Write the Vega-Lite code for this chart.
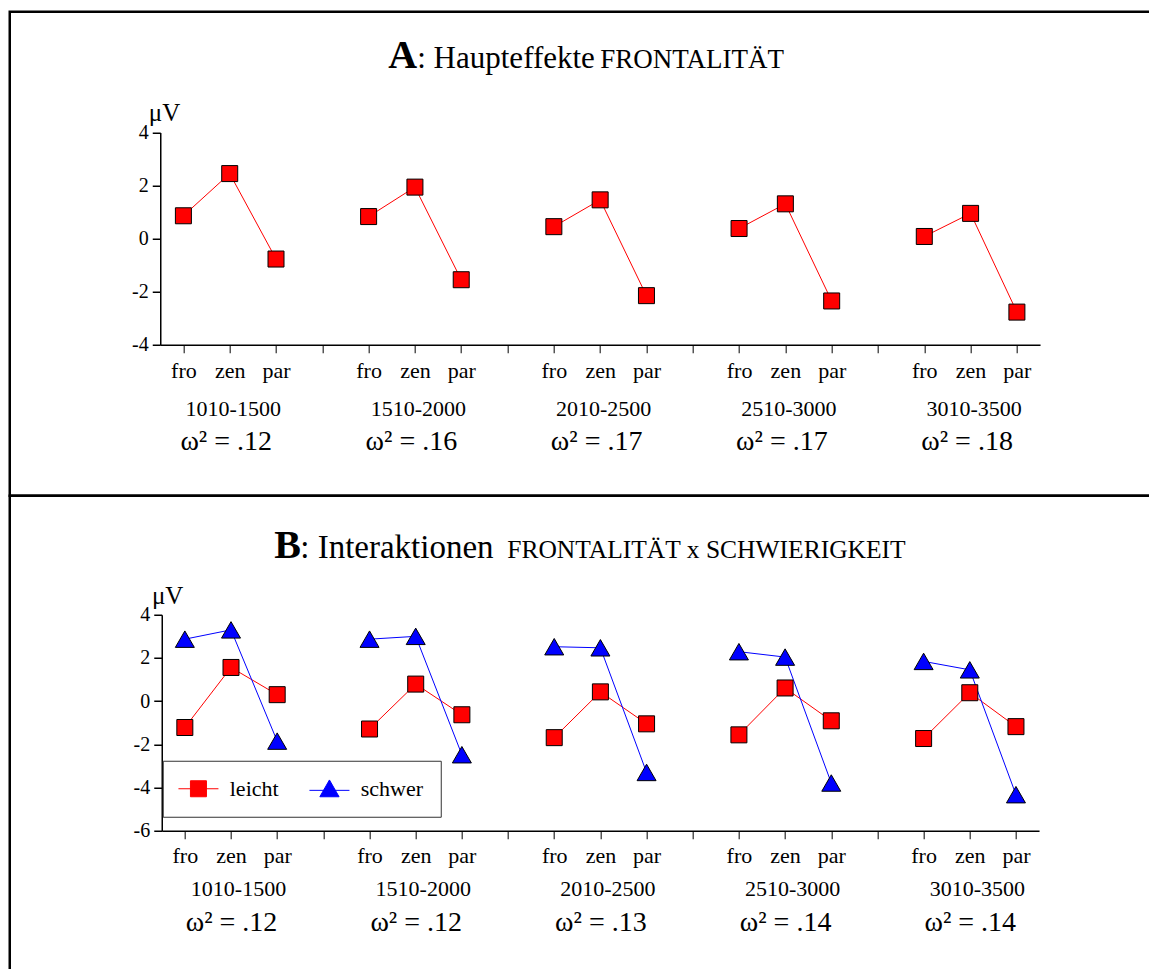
{
  "$schema": "https://vega.github.io/schema/vega-lite/v6.json",
  "background": "white",
  "padding": {"left": 7.75, "top": 9.75, "right": 0, "bottom": 0},
  "config": {
    "font": "Liberation Serif",
    "view": {"stroke": "#000", "strokeWidth": 2.5}
  },
  "datasets": {
    "haupt": [
      {"cell": "fro|1010-1500", "window": "1010-1500", "uV": 0.86},
      {"cell": "zen|1010-1500", "window": "1010-1500", "uV": 2.45},
      {"cell": "par|1010-1500", "window": "1010-1500", "uV": -0.77},
      {"cell": "fro|1510-2000", "window": "1510-2000", "uV": 0.83},
      {"cell": "zen|1510-2000", "window": "1510-2000", "uV": 1.94},
      {"cell": "par|1510-2000", "window": "1510-2000", "uV": -1.55},
      {"cell": "fro|2010-2500", "window": "2010-2500", "uV": 0.45},
      {"cell": "zen|2010-2500", "window": "2010-2500", "uV": 1.46},
      {"cell": "par|2010-2500", "window": "2010-2500", "uV": -2.15},
      {"cell": "fro|2510-3000", "window": "2510-3000", "uV": 0.38},
      {"cell": "zen|2510-3000", "window": "2510-3000", "uV": 1.31},
      {"cell": "par|2510-3000", "window": "2510-3000", "uV": -2.35},
      {"cell": "fro|3010-3500", "window": "3010-3500", "uV": 0.08},
      {"cell": "zen|3010-3500", "window": "3010-3500", "uV": 0.95},
      {"cell": "par|3010-3500", "window": "3010-3500", "uV": -2.77}
    ],
    "interaktion": [
      {"cell": "fro|1010-1500", "window": "1010-1500", "cond": "leicht", "uV": -1.22},
      {"cell": "zen|1010-1500", "window": "1010-1500", "cond": "leicht", "uV": 1.56},
      {"cell": "par|1010-1500", "window": "1010-1500", "cond": "leicht", "uV": 0.30},
      {"cell": "fro|1510-2000", "window": "1510-2000", "cond": "leicht", "uV": -1.29},
      {"cell": "zen|1510-2000", "window": "1510-2000", "cond": "leicht", "uV": 0.79},
      {"cell": "par|1510-2000", "window": "1510-2000", "cond": "leicht", "uV": -0.63},
      {"cell": "fro|2010-2500", "window": "2010-2500", "cond": "leicht", "uV": -1.69},
      {"cell": "zen|2010-2500", "window": "2010-2500", "cond": "leicht", "uV": 0.43},
      {"cell": "par|2010-2500", "window": "2010-2500", "cond": "leicht", "uV": -1.05},
      {"cell": "fro|2510-3000", "window": "2510-3000", "cond": "leicht", "uV": -1.56},
      {"cell": "zen|2510-3000", "window": "2510-3000", "cond": "leicht", "uV": 0.61},
      {"cell": "par|2510-3000", "window": "2510-3000", "cond": "leicht", "uV": -0.91},
      {"cell": "fro|3010-3500", "window": "3010-3500", "cond": "leicht", "uV": -1.73},
      {"cell": "zen|3010-3500", "window": "3010-3500", "cond": "leicht", "uV": 0.39},
      {"cell": "par|3010-3500", "window": "3010-3500", "cond": "leicht", "uV": -1.18},
      {"cell": "fro|1010-1500", "window": "1010-1500", "cond": "schwer", "uV": 2.87},
      {"cell": "zen|1010-1500", "window": "1010-1500", "cond": "schwer", "uV": 3.30},
      {"cell": "par|1010-1500", "window": "1010-1500", "cond": "schwer", "uV": -1.85},
      {"cell": "fro|1510-2000", "window": "1510-2000", "cond": "schwer", "uV": 2.87},
      {"cell": "zen|1510-2000", "window": "1510-2000", "cond": "schwer", "uV": 3.00},
      {"cell": "par|1510-2000", "window": "1510-2000", "cond": "schwer", "uV": -2.48},
      {"cell": "fro|2010-2500", "window": "2010-2500", "cond": "schwer", "uV": 2.52},
      {"cell": "zen|2010-2500", "window": "2010-2500", "cond": "schwer", "uV": 2.47},
      {"cell": "par|2010-2500", "window": "2010-2500", "cond": "schwer", "uV": -3.30},
      {"cell": "fro|2510-3000", "window": "2510-3000", "cond": "schwer", "uV": 2.29},
      {"cell": "zen|2510-3000", "window": "2510-3000", "cond": "schwer", "uV": 2.04},
      {"cell": "par|2510-3000", "window": "2510-3000", "cond": "schwer", "uV": -3.79},
      {"cell": "fro|3010-3500", "window": "3010-3500", "cond": "schwer", "uV": 1.84},
      {"cell": "zen|3010-3500", "window": "3010-3500", "cond": "schwer", "uV": 1.45},
      {"cell": "par|3010-3500", "window": "3010-3500", "cond": "schwer", "uV": -4.33}
    ]
  },
  "vconcat": [
    {
      "width": 1141.5,
      "height": 484,
      "data": {"name": "haupt"},
      "layer": [
        {
          "mark": {"type": "line", "color": "#ff0000", "strokeWidth": 1},
          "encoding": {
            "x": {
              "field": "cell", "type": "nominal",
              "scale": {
                "type": "point", "padding": 0.5, "range": [150.5, 1030.3],
                "domain": ["fro|1010-1500", "zen|1010-1500", "par|1010-1500", "|1",
                           "fro|1510-2000", "zen|1510-2000", "par|1510-2000", "|2",
                           "fro|2010-2500", "zen|2010-2500", "par|2010-2500", "|3",
                           "fro|2510-3000", "zen|2510-3000", "par|2510-3000", "|4",
                           "fro|3010-3500", "zen|3010-3500", "par|3010-3500"]
              },
              "axis": {
                "orient": "bottom", "offset": -151,
                "domainColor": "#000", "domainWidth": 1.5,
                "tickColor": "#555", "tickWidth": 1.5, "tickSize": 8,
                "labelExpr": "split(datum.label, '|')[0]",
                "labelAngle": 0, "labelPadding": 24.7, "labelBaseline": "alphabetic",
                "labelFont": "Liberation Serif", "labelFontSize": 22, "labelColor": "#000",
                "labelOverlap": false,
                "title": "A", "titleX": 378, "titleY": -277.5,
                "titleAlign": "left", "titleBaseline": "alphabetic",
                "titleFont": "Liberation Serif", "titleFontSize": 40, "titleFontWeight": "bold", "titleColor": "#000"
              }
            },
            "y": {
              "field": "uV", "type": "quantitative",
              "scale": {"domain": [-4, 4], "range": [333, 120.7], "nice": false, "zero": false},
              "axis": {
                "orient": "left", "offset": -150.5, "values": [-4, -2, 0, 2, 4], "grid": false,
                "labelExpr": "'' + datum.value",
                "domainColor": "#000", "domainWidth": 1.5,
                "tickColor": "#000", "tickWidth": 1.5, "tickSize": 8,
                "labelPadding": 4, "labelFont": "Liberation Serif", "labelFontSize": 20, "labelColor": "#000",
                "labelOverlap": false,
                "title": "μV", "titleAngle": 0, "titleX": -12, "titleY": 108.3,
                "titleAlign": "left", "titleBaseline": "alphabetic",
                "titleFont": "Liberation Serif", "titleFontSize": 25, "titleFontWeight": "normal", "titleColor": "#000"
              }
            },
            "detail": {"field": "window"}
          }
        },
        {
          "mark": {"type": "point", "shape": "square", "size": 256, "filled": true,
                   "fill": "#ff0000", "stroke": "#000", "strokeWidth": 1, "opacity": 1},
          "encoding": {
            "x": {
              "field": "cell", "type": "nominal",
              "axis": {
                "orient": "bottom", "offset": -151, "domain": false, "ticks": false, "tickSize": 0,
                "values": ["zen|1010-1500", "zen|1510-2000", "zen|2010-2500", "zen|2510-3000", "zen|3010-3500"],
                "labelExpr": "split(datum.label, '|')[1]",
                "labelAngle": 0, "labelPadding": 71, "labelOffset": 3, "labelBaseline": "alphabetic",
                "labelFont": "Liberation Serif", "labelFontSize": 22, "labelColor": "#000",
                "labelOverlap": false,
                "title": ": Haupteffekte", "titleX": 407, "titleY": -277.5,
                "titleAlign": "left", "titleBaseline": "alphabetic",
                "titleFont": "Liberation Serif", "titleFontSize": 31, "titleFontWeight": "normal", "titleColor": "#000"
              }
            },
            "y": {"field": "uV", "type": "quantitative", "axis": null}
          }
        },
        {
          "mark": {"type": "point", "opacity": 0},
          "encoding": {
            "x": {
              "field": "cell", "type": "nominal",
              "axis": {
                "orient": "bottom", "offset": -151, "domain": false, "ticks": false, "tickSize": 0,
                "values": ["zen|1010-1500", "zen|1510-2000", "zen|2010-2500", "zen|2510-3000", "zen|3010-3500"],
                "labelExpr": "'ω² = ' + ['.12', '.16', '.17', '.17', '.18'][indexof(['1010-1500', '1510-2000', '2010-2500', '2510-3000', '3010-3500'], split(datum.label, '|')[1])]",
                "labelAngle": 0, "labelPadding": 104.3, "labelOffset": -4, "labelBaseline": "alphabetic",
                "labelFont": "Liberation Serif", "labelFontSize": 28, "labelColor": "#000",
                "labelOverlap": false,
                "title": "FRONTALITÄT", "titleX": 590, "titleY": -277.5,
                "titleAlign": "left", "titleBaseline": "alphabetic",
                "titleFont": "Liberation Serif", "titleFontSize": 27, "titleFontWeight": "normal", "titleColor": "#000"
              }
            },
            "y": {"field": "uV", "type": "quantitative", "axis": null}
          }
        }
      ],
      "resolve": {"axis": {"x": "independent", "y": "independent"}}
    },
    {
      "width": 1141.5,
      "height": 480,
      "data": {"name": "interaktion"},
      "layer": [
        {
          "mark": {"type": "line", "strokeWidth": 1},
          "encoding": {
            "x": {
              "field": "cell", "type": "nominal",
              "scale": {
                "type": "point", "padding": 0.5, "range": [152, 1029.3],
                "domain": ["fro|1010-1500", "zen|1010-1500", "par|1010-1500", "|1",
                           "fro|1510-2000", "zen|1510-2000", "par|1510-2000", "|2",
                           "fro|2010-2500", "zen|2010-2500", "par|2010-2500", "|3",
                           "fro|2510-3000", "zen|2510-3000", "par|2510-3000", "|4",
                           "fro|3010-3500", "zen|3010-3500", "par|3010-3500"]
              },
              "axis": {
                "orient": "bottom", "offset": -145,
                "domainColor": "#000", "domainWidth": 1.5,
                "tickColor": "#555", "tickWidth": 1.5, "tickSize": 8,
                "labelExpr": "split(datum.label, '|')[0]",
                "labelAngle": 0, "labelPadding": 23.7, "labelBaseline": "alphabetic",
                "labelFont": "Liberation Serif", "labelFontSize": 22, "labelColor": "#000",
                "labelOverlap": false,
                "title": "B", "titleX": 264, "titleY": -273,
                "titleAlign": "left", "titleBaseline": "alphabetic",
                "titleFont": "Liberation Serif", "titleFontSize": 40, "titleFontWeight": "bold", "titleColor": "#000"
              }
            },
            "y": {
              "field": "uV", "type": "quantitative",
              "scale": {"domain": [-6, 4], "range": [335, 119], "nice": false, "zero": false},
              "axis": {
                "orient": "left", "offset": -152, "values": [-6, -4, -2, 0, 2, 4], "grid": false,
                "labelExpr": "'' + datum.value",
                "domainColor": "#000", "domainWidth": 1.5,
                "tickColor": "#000", "tickWidth": 1.5, "tickSize": 8,
                "labelPadding": 4, "labelFont": "Liberation Serif", "labelFontSize": 20, "labelColor": "#000",
                "labelOverlap": false,
                "title": "μV", "titleAngle": 0, "titleX": -10.3, "titleY": 108,
                "titleAlign": "left", "titleBaseline": "alphabetic",
                "titleFont": "Liberation Serif", "titleFontSize": 25, "titleFontWeight": "normal", "titleColor": "#000"
              }
            },
            "color": {
              "field": "cond", "type": "nominal",
              "scale": {"domain": ["leicht", "schwer"], "range": ["#ff0000", "#0000ff"]},
              "legend": null
            },
            "detail": {"field": "window"}
          }
        },
        {
          "mark": {"type": "point", "filled": true, "stroke": "#000", "strokeWidth": 1, "opacity": 1},
          "encoding": {
            "x": {
              "field": "cell", "type": "nominal",
              "axis": {
                "orient": "bottom", "offset": -145, "domain": false, "ticks": false, "tickSize": 0,
                "values": ["zen|1010-1500", "zen|1510-2000", "zen|2010-2500", "zen|2510-3000", "zen|3010-3500"],
                "labelExpr": "split(datum.label, '|')[1]",
                "labelAngle": 0, "labelPadding": 65, "labelOffset": 7, "labelBaseline": "alphabetic",
                "labelFont": "Liberation Serif", "labelFontSize": 22, "labelColor": "#000",
                "labelOverlap": false,
                "title": ": Interaktionen", "titleX": 290, "titleY": -273,
                "titleAlign": "left", "titleBaseline": "alphabetic",
                "titleFont": "Liberation Serif", "titleFontSize": 33, "titleFontWeight": "normal", "titleColor": "#000"
              }
            },
            "y": {"field": "uV", "type": "quantitative", "axis": null},
            "color": {"field": "cond", "type": "nominal", "legend": null},
            "shape": {
              "field": "cond", "type": "nominal",
              "scale": {"domain": ["leicht", "schwer"], "range": ["square", "triangle-up"]},
              "legend": null
            },
            "size": {
              "field": "cond", "type": "nominal",
              "scale": {"domain": ["leicht", "schwer"], "range": [256, 361]},
              "legend": null
            }
          }
        },
        {
          "mark": {"type": "point", "filled": true, "opacity": 0},
          "encoding": {
            "x": {
              "field": "cell", "type": "nominal",
              "axis": {
                "orient": "bottom", "offset": -145, "domain": false, "ticks": false, "tickSize": 0,
                "values": ["zen|1010-1500", "zen|1510-2000", "zen|2010-2500", "zen|2510-3000", "zen|3010-3500"],
                "labelExpr": "'ω² = ' + ['.12', '.12', '.13', '.14', '.14'][indexof(['1010-1500', '1510-2000', '2010-2500', '2510-3000', '3010-3500'], split(datum.label, '|')[1])]",
                "labelAngle": 0, "labelPadding": 100, "labelOffset": 0, "labelBaseline": "alphabetic",
                "labelFont": "Liberation Serif", "labelFontSize": 28, "labelColor": "#000",
                "labelOverlap": false,
                "title": "FRONTALITÄT x SCHWIERIGKEIT", "titleX": 497, "titleY": -273,
                "titleAlign": "left", "titleBaseline": "alphabetic",
                "titleFont": "Liberation Serif", "titleFontSize": 25.5, "titleFontWeight": "normal", "titleColor": "#000"
              }
            },
            "y": {"field": "uV", "type": "quantitative", "axis": null},
            "color": {
              "field": "cond", "type": "nominal",
              "legend": {
                "orient": "none", "legendX": 153, "legendY": 265, "direction": "horizontal",
                "title": null, "padding": 17, "strokeColor": "#333", "fillColor": "#fff",
                "symbolSize": 256, "symbolOffset": 7.7, "labelOffset": 20.3, "columnPadding": 28,
                "symbolOpacity": 1, "symbolStrokeWidth": 1,
                "labelFont": "Liberation Serif", "labelFontSize": 22, "labelColor": "#000"
              }
            },
            "stroke": {
              "field": "cond", "type": "nominal",
              "scale": {"domain": ["leicht", "schwer"], "range": ["#ff0000", "#0000ff"]},
              "legend": {
                "orient": "none", "legendX": 153, "legendY": 265, "direction": "horizontal",
                "title": null, "padding": 17, "strokeColor": "#333", "fillColor": "#fff",
                "symbolSize": 256, "symbolOffset": 7.7, "labelOffset": 20.3, "columnPadding": 28,
                "symbolOpacity": 1, "symbolStrokeWidth": 1,
                "labelFont": "Liberation Serif", "labelFontSize": 22, "labelColor": "#000"
              }
            },
            "shape": {
              "field": "cond", "type": "nominal",
              "scale": {
                "domain": ["leicht", "schwer"],
                "range": ["M-2.5,0H2.5M-1,-1H1V1H-1Z", "M-2.5,0.2H2.5M0,-1.1L1.2,1H-1.2Z"]
              },
              "legend": {
                "orient": "none", "legendX": 153, "legendY": 265, "direction": "horizontal",
                "title": null, "padding": 17, "strokeColor": "#333", "fillColor": "#fff",
                "symbolSize": 256, "symbolOffset": 7.7, "labelOffset": 20.3, "columnPadding": 28,
                "symbolOpacity": 1, "symbolStrokeWidth": 1,
                "labelFont": "Liberation Serif", "labelFontSize": 22, "labelColor": "#000"
              }
            }
          }
        }
      ],
      "resolve": {
        "axis": {"x": "independent", "y": "independent"},
        "scale": {"shape": "independent"},
        "legend": {"color": "independent", "shape": "independent", "stroke": "independent"}
      }
    }
  ],
  "spacing": 0,
  "bounds": "flush"
}
